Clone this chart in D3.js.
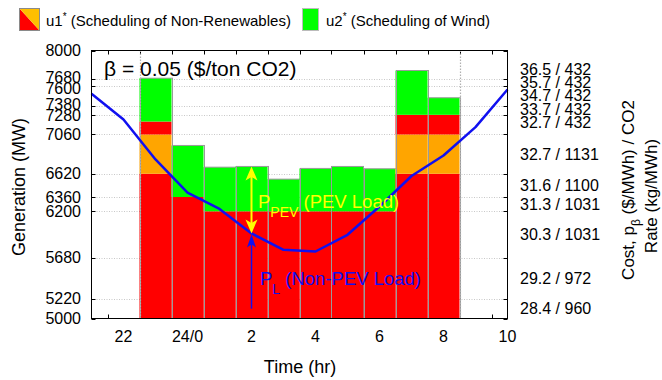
<!DOCTYPE html>
<html><head><meta charset="utf-8">
<script src="https://cdn.jsdelivr.net/npm/d3@7"></script>
<style>
body{margin:0;background:#fff}
svg{display:block;font-family:"Liberation Sans",Arial,Helvetica,sans-serif}
</style></head><body>
<svg id="chart" width="662" height="380"></svg>
<script>
// Hourly schedule, 23:00 through 08:00 (hours past midnight of day 1 continue as 24, 25, ...)
const barHours   = [23, 24, 25, 26, 27, 28, 29, 30, 31, 32];
// cumulative generation levels (MW) of each stacked band
const u1BaseTop  = [6620, 6360, 6200, 6200, 6200, 6200, 6200, 6200, 6620, 6620]; // non-renewables, red
const u1MidTop   = [7060, 6360, 6200, 6200, 6200, 6200, 6200, 6200, 7060, 7060]; // non-renewables, orange
const u1PeakTop  = [7205, 6360, 6200, 6200, 6200, 6200, 6200, 6200, 7280, 7280]; // non-renewables, red
const u2Top      = [7690, 6937, 6694, 6702, 6560, 6680, 6702, 6676, 7776, 7471]; // wind, green

// Non-PEV load curve
const loadHours  = [21, 22, 23, 24, 25, 26, 27, 28, 29, 30, 31, 32, 33, 34];
const loadMW     = [7515, 7228, 6780, 6410, 6226, 5952, 5769, 5750, 5937, 6254, 6595, 6825, 7142, 7564];

// Axis ticks
const genTicks   = [5000, 5220, 5680, 6200, 6360, 6620, 7060, 7280, 7380, 7600, 7680, 8000];
const costLabels = ["28.4 / 960", "29.2 / 972", "30.3 / 1031", "31.3 / 1031", "31.6 / 1100",
                    "32.7 / 1131", "32.7 / 432", "33.7 / 432", "34.7 / 432", "35.7 / 432", "36.5 / 432"];
const timeTicks  = [22, 24, 26, 28, 30, 32, 34];
const timeLabels = ["22", "24/0", "2", "4", "6", "8", "10"];
const minorTime  = [21.5, 22.5, 23.5, 24.5, 25.5, 26.5, 27.5, 28.5, 29.5, 30.5, 31.5, 32.5, 33.5];
const annotHour  = 26;      // hour where the two loads are marked
const annotFoot  = 5110;    // lower end of the P_L arrow

const svg = d3.select("#chart");
const L = 91.5, R = 507.5, T = 50.5, B = 318.5;
const x = d3.scaleLinear().domain([21, 34]).range([L, R]);
const y = d3.scaleLinear().domain([5000, 8000]).range([B, T]);

const C = {red: "#ff0000", orange: "#ffa500", green: "#00ff00", blue: "#1010f0", yellow: "#ffff00"};

// horizontal grid
svg.append("g").selectAll("line").data(genTicks.slice(1, -1)).join("line")
  .attr("x1", L).attr("x2", R)
  .attr("y1", d => Math.round(y(d)) + 0.5).attr("y2", d => Math.round(y(d)) + 0.5)
  .attr("stroke", "#c8c8c8").attr("stroke-width", 1).attr("stroke-dasharray", "1,1.5");

// minor time ticks (bottom and top, pointing inward)
const tk = svg.append("g").attr("stroke", "#000").attr("stroke-width", 1);
tk.selectAll(".tb").data(minorTime).join("line")
  .attr("x1", d => Math.round(x(d)) + 0.5).attr("x2", d => Math.round(x(d)) + 0.5)
  .attr("y1", B).attr("y2", B - 4);
tk.selectAll(".tt").data(minorTime).join("line")
  .attr("x1", d => Math.round(x(d)) + 0.5).attr("x2", d => Math.round(x(d)) + 0.5)
  .attr("y1", T).attr("y2", T + 4);

// stacked bars
const bars = barHours.map((h, i) => ({
  h,
  segs: [
    {y0: 5000,         y1: u1BaseTop[i], c: C.red},
    {y0: u1BaseTop[i], y1: u1MidTop[i],  c: C.orange},
    {y0: u1MidTop[i],  y1: u1PeakTop[i], c: C.red},
    {y0: u1PeakTop[i], y1: u2Top[i],     c: C.green}
  ].filter(s => s.y1 > s.y0),
  top: u2Top[i]
}));
const bg = svg.append("g").selectAll("g").data(bars).join("g");
bg.selectAll("rect").data(d => d.segs.map(s => ({...s, h: d.h}))).join("rect")
  .attr("x", d => x(d.h - 0.5)).attr("width", d => x(d.h + 0.5) - x(d.h - 0.5))
  .attr("y", d => y(d.y1)).attr("height", d => y(d.y0) - y(d.y1))
  .attr("fill", d => d.c);
bg.append("rect")
  .attr("x", d => Math.round(x(d.h - 0.5)) + 0.5).attr("width", d => x(d.h + 0.5) - x(d.h - 0.5))
  .attr("y", d => y(d.top)).attr("height", d => y(5000) - y(d.top))
  .attr("fill", "none").attr("stroke", "#9a9a9a").attr("stroke-width", 1);

// dotted verticals at the schedule edges
svg.append("g").selectAll("line").data([22.5, 32.5]).join("line")
  .attr("x1", d => Math.round(x(d)) + 0.5).attr("x2", d => Math.round(x(d)) + 0.5)
  .attr("y1", T).attr("y2", B)
  .attr("stroke", "#b0b0b0").attr("stroke-width", 1.2).attr("stroke-dasharray", "1.5,1.5");

// load curve
svg.append("path").datum(loadHours.map((h, i) => [h, loadMW[i]]))
  .attr("d", d3.line().x(d => x(d[0])).y(d => y(d[1])))
  .attr("fill", "none").attr("stroke", C.blue).attr("stroke-width", 2.5).attr("stroke-linejoin", "round");

// arrows: shaft plus a filled head with its tip at (px, py), pointing up (dir=-1) or down (dir=1)
function head(g, px, py, dir, w, len, color) {
  g.append("path")
    .attr("d", `M${px},${py} L${px - w / 2},${py - dir * len} L${px},${py - dir * len * 0.75} L${px + w / 2},${py - dir * len} Z`)
    .attr("fill", color);
}
const ai = barHours.indexOf(annotHour);
const li = loadHours.indexOf(annotHour);
const ax = x(annotHour);
const yTop = y(u2Top[ai]), yLoad = y(loadMW[li]);
const ag = svg.append("g");
ag.append("line").attr("x1", ax).attr("x2", ax).attr("y1", yTop + 6).attr("y2", yLoad - 6)
  .attr("stroke", C.yellow).attr("stroke-width", 2);
head(ag, ax, yTop, -1, 12, 14, C.yellow);
head(ag, ax, yLoad, 1, 12, 14, C.yellow);
ag.append("line").attr("x1", ax).attr("x2", ax).attr("y1", y(annotFoot)).attr("y2", yLoad + 6)
  .attr("stroke", C.blue).attr("stroke-width", 1.5);
head(ag, ax, yLoad + 1, -1, 9, 13, C.blue);

// annotations
const pev = svg.append("text").attr("x", 258).attr("y", 208).attr("fill", C.yellow).attr("font-size", 18.5);
pev.append("tspan").text("P");
pev.append("tspan").attr("dy", 9).attr("font-size", 14).text("PEV");
pev.append("tspan").attr("dy", -9).text(" (PEV Load)");
const pl = svg.append("text").attr("x", 260).attr("y", 285).attr("fill", C.blue).attr("font-size", 18.5);
pl.append("tspan").text("P");
pl.append("tspan").attr("dy", 9).attr("font-size", 14).text("L");
pl.append("tspan").attr("dy", -9).text(" (Non-PEV Load)");
svg.append("text").attr("x", 104).attr("y", 76).attr("font-size", 21).attr("fill", "#000")
  .text("β = 0.05 ($/ton CO2)");

// frame
svg.append("rect").attr("x", L).attr("y", T).attr("width", R - L).attr("height", B - T)
  .attr("fill", "none").attr("stroke", "#000").attr("stroke-width", 1);

// y ticks (left and right, inward)
const yt = svg.append("g").attr("stroke", "#000");
yt.selectAll(".l").data(genTicks).join("line")
  .attr("x1", L).attr("x2", L + 4)
  .attr("y1", d => Math.round(y(d)) + 0.5).attr("y2", d => Math.round(y(d)) + 0.5);
yt.selectAll(".r").data(genTicks).join("line")
  .attr("x1", R).attr("x2", R - 4)
  .attr("y1", d => Math.round(y(d)) + 0.5).attr("y2", d => Math.round(y(d)) + 0.5);

// push overlapping neighbours apart pairwise (positions sorted top to bottom)
function relax(pos, gap) {
  const p = pos.slice();
  for (let k = 0; k < 300; k++) {
    for (let i = 0; i < p.length - 1; i++) {
      const d = gap - (p[i + 1] - p[i]);
      if (d > 0) { p[i] -= d / 2; p[i + 1] += d / 2; }
    }
  }
  return p;
}
// group labels whose anchors sit closer than `near`, then space each group
// evenly by `gap` around the group's mean position
function spread(pos, near, gap) {
  const out = pos.slice();
  let start = 0;
  for (let i = 1; i <= pos.length; i++) {
    if (i === pos.length || pos[i] - pos[i - 1] >= near) {
      const n = i - start;
      if (n > 1) {
        const m = d3.mean(pos.slice(start, i));
        for (let k = 0; k < n; k++) out[start + k] = m + (k - (n - 1) / 2) * gap;
      }
      start = i;
    }
  }
  return out;
}
const leftPos = relax(genTicks.map(v => y(v)).reverse(), 11).reverse();
svg.append("g").selectAll("text").data(genTicks).join("text")
  .attr("x", 81).attr("y", (d, i) => leftPos[i]).attr("dy", "0.35em")
  .attr("text-anchor", "end").attr("font-size", 16).text(d => d);

const mids = costLabels.map((s, i) => (y(genTicks[i]) + y(genTicks[i + 1])) / 2);
const rightPos = spread(mids.slice().reverse(), 18.5, 13.2).reverse();
svg.append("g").selectAll("text").data(costLabels).join("text")
  .attr("x", 520).attr("y", (d, i) => rightPos[i]).attr("dy", "0.35em")
  .attr("font-size", 16).text(d => d);

// x labels
svg.append("g").selectAll("text").data(timeTicks).join("text")
  .attr("x", d => x(d)).attr("y", 342).attr("text-anchor", "middle")
  .attr("font-size", 16).text((d, i) => timeLabels[i]);

// axis titles
svg.append("text").attr("x", 300).attr("y", 373).attr("text-anchor", "middle")
  .attr("font-size", 18).text("Time (hr)");
svg.append("text").attr("transform", "translate(25,187) rotate(-90)").attr("text-anchor", "middle")
  .attr("font-size", 18).text("Generation (MW)");
const rt = svg.append("text").attr("transform", "translate(634,190) rotate(-90)").attr("text-anchor", "middle")
  .attr("font-size", 17);
rt.append("tspan").text("Cost, p");
rt.append("tspan").attr("dy", 6).attr("font-size", 12).text("β");
rt.append("tspan").attr("dy", -6).text(" ($/MWh) / CO2");
svg.append("text").attr("transform", "translate(657,196) rotate(-90)").attr("text-anchor", "middle")
  .attr("font-size", 17).text("Rate (kg/MWh)");

// legend
const lg = svg.append("g");
lg.append("path").attr("d", "M19.5,8.5 L19.5,30.5 L39.5,30.5 Z").attr("fill", C.red);
lg.append("path").attr("d", "M19.5,8.5 L39.5,8.5 L39.5,30.5 Z").attr("fill", "#ffbf00");
lg.append("rect").attr("x", 19.5).attr("y", 8.5).attr("width", 20).attr("height", 22)
  .attr("fill", "none").attr("stroke", "#8a8a8a");
const t1 = lg.append("text").attr("x", 46).attr("y", 26).attr("font-size", 15);
t1.append("tspan").text("u1");
t1.append("tspan").attr("dy", -6).attr("font-size", 10).text("*");
t1.append("tspan").attr("dy", 6).text(" (Scheduling of Non-Renewables)");
lg.append("rect").attr("x", 302.5).attr("y", 8.5).attr("width", 16).attr("height", 22)
  .attr("fill", C.green).attr("stroke", "#bbb");
const t2 = lg.append("text").attr("x", 326).attr("y", 26).attr("font-size", 15);
t2.append("tspan").text("u2");
t2.append("tspan").attr("dy", -6).attr("font-size", 10).text("*");
t2.append("tspan").attr("dy", 6).text(" (Scheduling of Wind)");
</script>
</body></html>
